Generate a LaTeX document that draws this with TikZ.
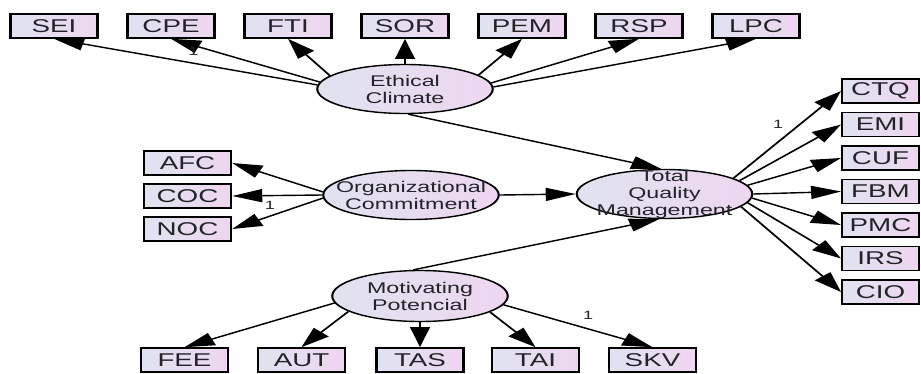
\documentclass[tikz,border=0pt]{standalone}
\usepackage{fontspec}
\setmainfont{Liberation Sans}
\usetikzlibrary{shapes.geometric,arrows.meta}
\definecolor{lc}{RGB}{224,227,240}
\definecolor{rc}{RGB}{238,214,240}
\definecolor{txt}{RGB}{35,35,40}
\tikzset{
  obs/.style={draw=black, line width=1.6pt, left color=lc, right color=rc,
    minimum width=58pt, minimum height=24pt, inner sep=0pt,
    font=\fontsize{18.5}{20}\selectfont, text=txt},
  obsr/.style={obs, minimum width=51pt},
  lat/.style={ellipse, draw=black, line width=1.4pt, left color=lc, right color=rc,
    minimum width=117pt, minimum height=49pt, inner sep=0pt},
  lattext/.style={align=center, font=\fontsize{15.5}{17}\selectfont, text=txt, inner sep=0pt},
  arr/.style={line width=1.4pt, -{Triangle[length=20pt,width=13pt]}},
  one/.style={font=\fontsize{12}{14}\selectfont, text=txt, inner sep=0pt}
}
\begin{document}
\begin{tikzpicture}[x=1pt,y=-1pt]
\useasboundingbox (0,0) rectangle (921,373);
\begin{scope}[transform canvas={xscale=1.5}]
% top indicators
\node[obs] (sei) at (36,26) {SEI};
\node[obs] (cpe) at (114,26) {CPE};
\node[obs] (fti) at (192,26) {FTI};
\node[obs] (sor) at (270,26) {SOR};
\node[obs] (pem) at (348,26) {PEM};
\node[obs] (rsp) at (426,26) {RSP};
\node[obs] (lpc) at (504,26) {LPC};
% left indicators
\node[obs] (afc) at (125,163) {AFC};
\node[obs] (coc) at (125,196) {COC};
\node[obs] (noc) at (125,229) {NOC};
% right indicators
\node[obsr] (ctq) at (587,91) {CTQ};
\node[obsr] (emi) at (587,124.5) {EMI};
\node[obsr] (cuf) at (587,158) {CUF};
\node[obsr] (fbm) at (587,191.5) {FBM};
\node[obsr] (pmc) at (587,225) {PMC};
\node[obsr] (irs) at (587,258.5) {IRS};
\node[obsr] (cio) at (587,292) {CIO};
% bottom indicators
\node[obs] (fee) at (123,360) {FEE};
\node[obs] (aut) at (201,360) {AUT};
\node[obs] (tas) at (280,360) {TAS};
\node[obs] (tai) at (357,360) {TAI};
\node[obs] (skv) at (435,360) {SKV};
% latent variables
\node[lat] (ec) at (270,89) {};
\node[lattext] (ect) at (ec) {Ethical\\Climate};
\node[lat] (oc) at (274,195) {};
\node[lattext] (oct) at (oc) {Organizational\\Commitment};
\node[lat] (tqm) at (443,194) {};
\node[lattext] (tqmt) at (tqm) {Total\\Quality\\Management};
\node[lat, minimum height=51pt] (mp) at (280,296) {};
\node[lattext] (mpt) at (mp) {Motivating\\Potencial};
% Ethical climate arrows
\draw[arr] (ec.176) -- (sei.south);
\draw[arr] (ec.173) -- (cpe.south);
\draw[arr] (ec.165) -- (fti.south);
\draw[arr] (ec.north) -- (sor.south);
\draw[arr] (ec.16) -- (pem.south);
\draw[arr] (ec.6) -- (rsp.south);
\draw[arr] (ec.2) -- (lpc.south);
\draw[arr] (ec.-85) -- (tqm.95);
% Organizational commitment
\draw[arr] (oc.177) -- (afc.east);
\draw[arr] (oc.west) -- (coc.east);
\draw[arr] (oc.183) -- (noc.east);
\draw[arr] (oc.east) -- (tqm.west);
% Motivating potencial
\draw[arr] (mp.100) -- (tqm.262);
\draw[arr] (mp.187) -- (fee.north);
\draw[arr] (mp.198) -- (aut.north);
\draw[arr] (mp.south) -- (tas.north);
\draw[arr] (mp.-19) -- (tai.north);
\draw[arr] (mp.-9) -- (skv.north);
% TQM
\draw[arr] (tqm.19) -- (ctq.west);
\draw[arr] (tqm.15) -- (emi.west);
\draw[arr] (tqm.9) -- (cuf.west);
\draw[arr] (tqm.east) -- (fbm.west);
\draw[arr] (tqm.-4) -- (pmc.west);
\draw[arr] (tqm.-9.5) -- (irs.west);
\draw[arr] (tqm.-14.5) -- (cio.west);
% labels
\node[one] (l1) at (129,51) {1};
\node[one] (l2) at (180,205) {1};
\node[one] (l3) at (518.7,124) {1};
\node[one] (l4) at (392,315) {1};
\end{scope}
\end{tikzpicture}
\end{document}
